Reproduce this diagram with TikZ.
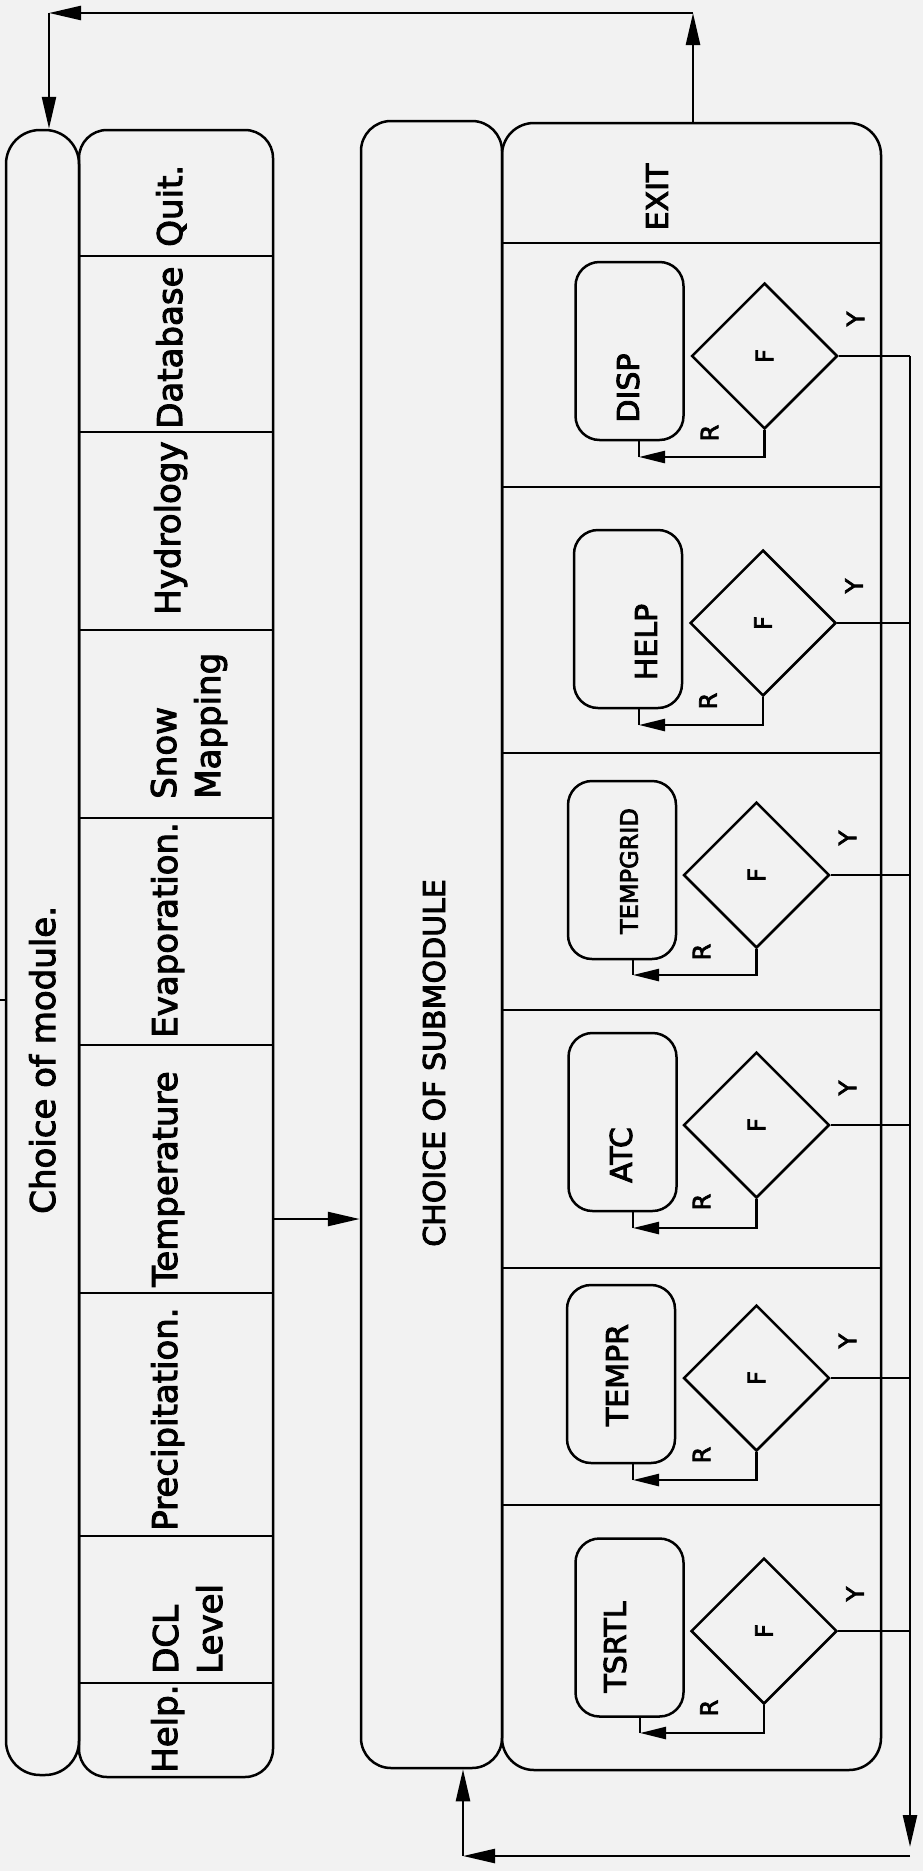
\documentclass[tikz,border=0pt]{standalone}
\usepackage{graphicx}
\usepackage{fontspec}
\setmainfont{DejaVu Sans}[FakeBold=3]
\usetikzlibrary{arrows.meta,shapes.geometric}

\begin{document}
\begin{tikzpicture}[x=1pt, y=-1pt, line width=2.5pt,
                column/.style={draw, rounded corners=30pt, inner sep=0pt},
                process/.style={draw, rounded corners=24pt, minimum width=108pt, minimum height=178pt, inner sep=0pt},
                decision/.style={draw, diamond, aspect=1, minimum size=146pt, inner sep=0pt, font=\fontsize{24}{28}\selectfont},
                modlabel/.style={rotate=90, anchor=base west, inner sep=0pt, align=left, font=\fontsize{34}{44}\selectfont},
                sublabel/.style={rotate=90, inner sep=0pt, font=\fontsize{30}{36}\selectfont},
                tag/.style={rotate=90, inner sep=0pt, font=\fontsize{24}{28}\selectfont},
                link/.style={-{Triangle[length=32pt,width=14pt]}},
                rlink/.style={-{Triangle[length=26pt,width=12pt]}}
            ]
            \fill[black!5] (0,0) rectangle (923,1871);
            \useasboundingbox (0,0) rectangle (923,1871);

            % Left part - choice of module
            \node[column, minimum width=73pt, minimum height=1645pt, rounded corners=34pt] (choice) at (42.5,952.5) {};
            \node[column, minimum width=194pt, minimum height=1647pt, rounded corners=28pt] (modules) at (176,953.5) {};
            \foreach \y in {256,432,630,818,1045,1293,1536,1683} \draw (79,\y) -- (273,\y);
            \node[modlabel] (lchoice) at (55,1215) {Choice of module.};
            \node[modlabel] (lquit) at (182,248) {Quit.};
            \node[modlabel] (lbase) at (182,430) {Database};
            \node[modlabel] (lhydro) at (180,616) {Hydrology};
            \node[modlabel] (lsnow) at (220,800) {Snow\\Mapping};
            \node[modlabel] (levap) at (177,1039) {Evaporation.};
            \node[modlabel] (ltemp) at (177,1288) {Temperature};
            \node[modlabel] (lprec) at (177,1532) {Precipitation.};
            \node[modlabel] (ldcl) at (222,1675) {DCL\\Level};
            \node[modlabel] (lhelp) at (177,1774) {Help.};

            % Right part - choice of submodule
            \node[column, minimum width=141pt, minimum height=1647pt] (subcol) at (431.5,944.5) {};
            \node[column, minimum width=379pt, minimum height=1647pt, rounded corners=32pt] (subbox) at (691.5,946.5) {};
            \foreach \y in {243,487,753,1010,1268,1505} \draw (502,\y) -- (881,\y);
            \node[sublabel, anchor=base west] (lsub) at (445,1248) {CHOICE OF SUBMODULE};
            \node[sublabel] (lexit) at (657,197) {EXIT};

            \coordinate (ycorner) at (910,1856);
            \coordinate (bcorner) at (463,1856);

            % DISP
            \node[process] (pdisp) at (629.5,351) {};
            \node[sublabel] (tdisp) at (628,388) {DISP};
            \node[decision] (fdisp) at (764.5,356) {\rotatebox{90}{F}};
            \node[tag] (rdisp) at (709.5,433) {R};
            \node[tag] (ydisp) at (855.5,319) {Y};
            \coordinate (cdisp) at (639,457);
            \draw[rlink] (fdisp.south) |- (cdisp);
            \draw (cdisp) -- (cdisp |- pdisp.south);
            \draw (fdisp.east) -- (fdisp.east -| ycorner);

            % HELP
            \node[process] (phelp) at (628,619) {};
            \node[sublabel] (thelp) at (646,642) {HELP};
            \node[decision] (fhelp) at (763,623) {\rotatebox{90}{F}};
            \node[tag] (rhelp) at (708,701) {R};
            \node[tag] (yhelp) at (854,586) {Y};
            \coordinate (chelp) at (639,725);
            \draw[rlink] (fhelp.south) |- (chelp);
            \draw (chelp) -- (chelp |- phelp.south);
            \draw (fhelp.east) -- (fhelp.east -| ycorner);

            % TEMPGRID
            \node[process] (pgrid) at (622,870) {};
            \node[sublabel, font=\fontsize{24}{28}\selectfont] (tgrid) at (629,871) {TEMPGRID};
            \node[decision] (fgrid) at (756.5,875) {\rotatebox{90}{F}};
            \node[tag] (rgrid) at (701.5,952) {R};
            \node[tag] (ygrid) at (847.5,838) {Y};
            \coordinate (cgrid) at (633,975);
            \draw[rlink] (fgrid.south) |- (cgrid);
            \draw (cgrid) -- (cgrid |- pgrid.south);
            \draw (fgrid.east) -- (fgrid.east -| ycorner);

            % ATC
            \node[process] (patc) at (622.5,1122) {};
            \node[sublabel] (tatc) at (621,1155) {ATC};
            \node[decision] (fatc) at (756.5,1125) {\rotatebox{90}{F}};
            \node[tag] (ratc) at (701.5,1202) {R};
            \node[tag] (yatc) at (847.5,1088) {Y};
            \coordinate (catc) at (633,1228);
            \draw[rlink] (fatc.south) |- (catc);
            \draw (catc) -- (catc |- patc.south);
            \draw (fatc.east) -- (fatc.east -| ycorner);

            % TEMPR
            \node[process] (ptempr) at (621,1374) {};
            \node[sublabel] (ttempr) at (617,1375) {TEMPR};
            \node[decision] (ftempr) at (756.5,1378) {\rotatebox{90}{F}};
            \node[tag] (rtempr) at (701.5,1455) {R};
            \node[tag] (ytempr) at (847.5,1341) {Y};
            \coordinate (ctempr) at (633,1480);
            \draw[rlink] (ftempr.south) |- (ctempr);
            \draw (ctempr) -- (ctempr |- ptempr.south);
            \draw (ftempr.east) -- (ftempr.east -| ycorner);

            % TSRTL
            \node[process] (ptsrtl) at (629.5,1627.5) {};
            \node[sublabel] (ttsrtl) at (615,1647) {TSRTL};
            \node[decision] (ftsrtl) at (764,1631) {\rotatebox{90}{F}};
            \node[tag] (rtsrtl) at (709,1708) {R};
            \node[tag] (ytsrtl) at (855,1594) {Y};
            \coordinate (ctsrtl) at (640,1733);
            \draw[rlink] (ftsrtl.south) |- (ctsrtl);
            \draw (ctsrtl) -- (ctsrtl |- ptsrtl.south);
            \draw (ftsrtl.east) -- (ftsrtl.east -| ycorner);

            % return paths
            \draw[link, shorten >=9pt] (fdisp.east -| ycorner) -- (ycorner);
            \draw[link] (ycorner) -- (bcorner);
            \draw[link] (bcorner) -- (bcorner |- subcol.south);
            \coordinate (tright) at (693,13);
            \coordinate (tleft) at (49,13);
            \draw[link] (tright |- subbox.north) -- (tright);
            \draw[link] (tright) -- (tleft);
            \draw[link] (tleft) -- (tleft |- choice.north);
            \coordinate (ttemp) at (273,1219);
            \draw[link] (ttemp) -- (ttemp -| subcol.west);
            \coordinate (ttick) at (0,1000);
            \draw (ttick) -- (ttick -| choice.west);
            \end{tikzpicture}
\end{document}
